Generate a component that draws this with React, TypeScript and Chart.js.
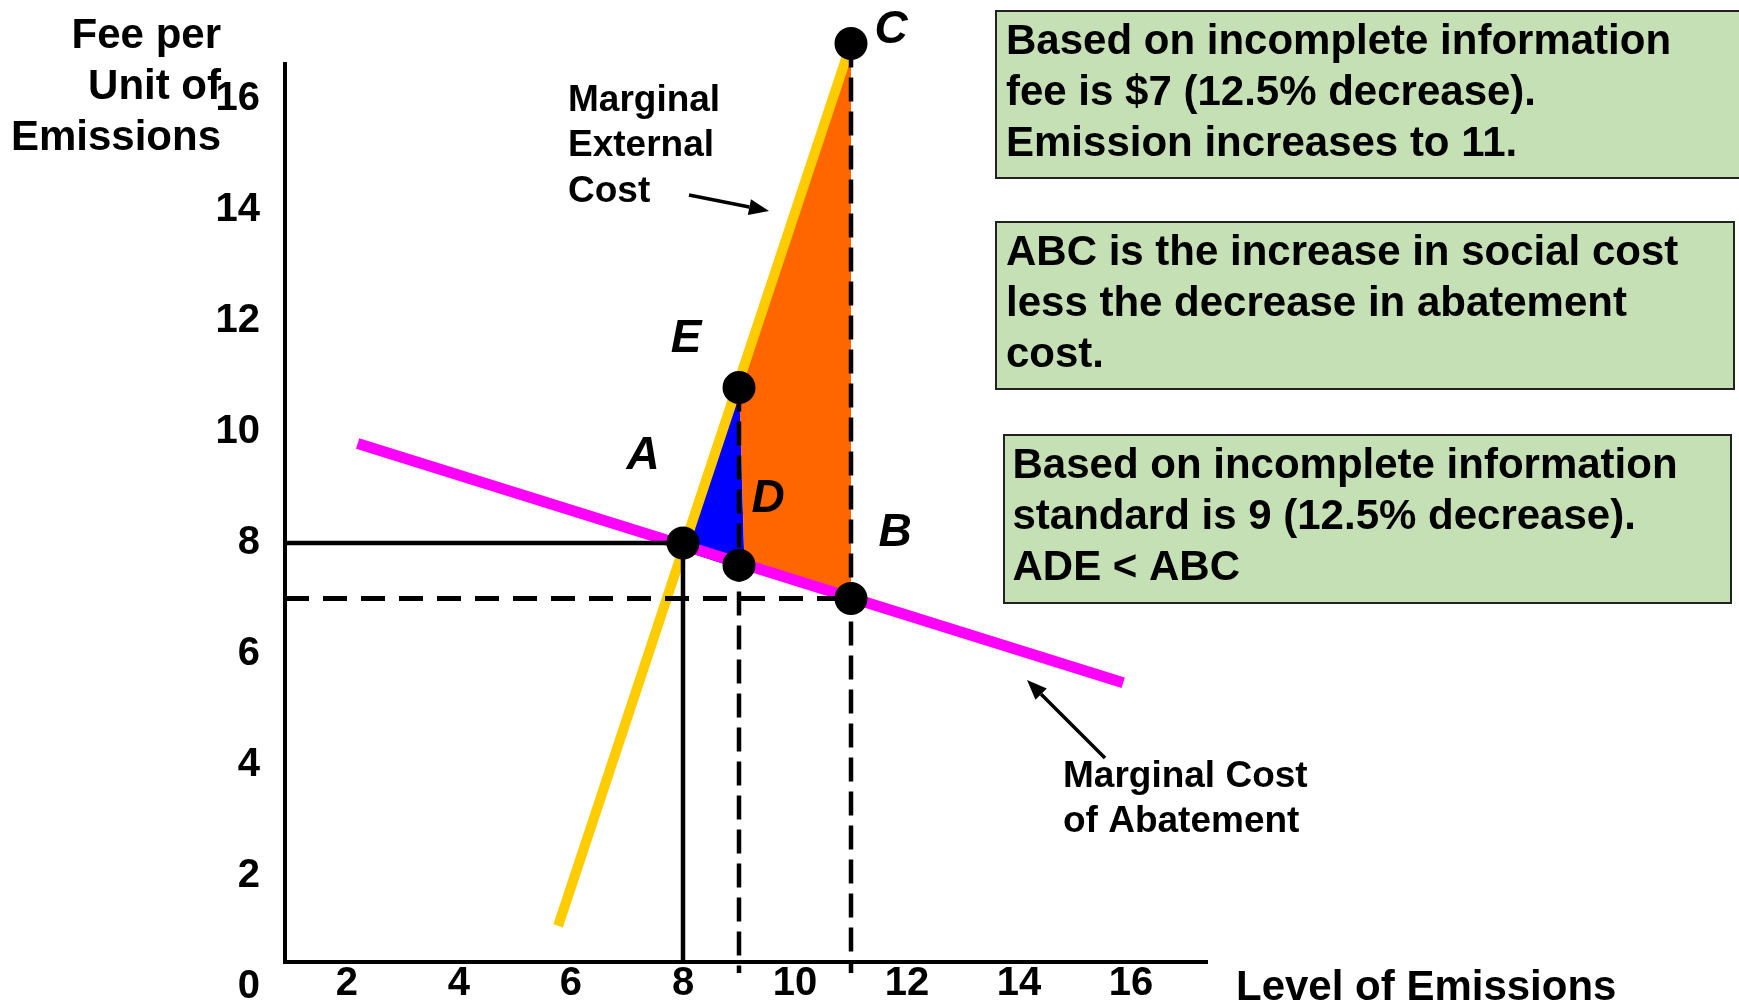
import React, { useEffect, useRef } from "react";
import { Chart, registerables } from "chart.js";

Chart.register(...registerables);

// ---------------- data ----------------
const X_TICKS = [2, 4, 6, 8, 10, 12, 14, 16];
const Y_TICKS = [0, 2, 4, 6, 8, 10, 12, 14, 16];

// named points A, D, E, B, C
const POINT_NAMES = ["A", "D", "E", "B", "C"];
const POINT_X = [8, 9, 9, 11, 11];
const POINT_Y = [8, 7.6, 10.8, 7, 17];

// Marginal External Cost (yellow)
const MEC_X = [5.77, 11];
const MEC_Y = [1.1, 17];
// Marginal Cost of Abatement (magenta)
const MCA_X = [2.19, 15.86];
const MCA_Y = [9.79, 5.48];

// shaded areas
const ORANGE_X = [9, 11, 11, 9.1, 9];
const ORANGE_Y = [10.9, 17, 7.0, 7.6, 10.9];
const BLUE_X = [8.03, 9, 9.1, 8.03];
const BLUE_Y = [7.85, 10.9, 7.5, 7.85];

// reference levels
const EFFICIENT_LEVEL = 8; // emissions and fee at A
const FEE_INCOMPLETE = 7;
const STANDARD_INCOMPLETE = 9;
const EMISSION_AT_FEE = 11;
const E_FEE = 10.8;
const C_FEE = 17;
const DASH_BOTTOM = 0.25;

// axis bounds
const X_MIN = 0.893;
const X_MAX = 17.357;
const Y_MIN = 0.45;
const Y_MAX = 16.63;

// texts
const Y_TITLE = ["Fee per", "Unit of", "Emissions"];
const X_TITLE = "Level of Emissions";
const MEC_LABEL = ["Marginal", "External", "Cost"];
const MCA_LABEL = ["Marginal Cost", "of Abatement"];
const BOX1 = ["Based on incomplete information", "fee is $7 (12.5% decrease).", "Emission increases to 11."];
const BOX2 = ["ABC is the increase in social cost", "less the decrease in abatement", "cost."];
const BOX3 = ["Based on incomplete information", "standard is 9 (12.5% decrease).", "ADE < ABC"];

// ---------------- layout / style ----------------
const FONT = "'Liberation Sans', Arial, Helvetica, sans-serif";
const W = 1739;
const H = 1001;
const AREA_TOP = 64;
const AREA_BOTTOM = 962;
const AREA_LEFT = 285;
const AREA_RIGHT = 1207;
const Y_AXIS_W = 100;
const BOX_FILL = "#C5E0B4";

const BOXES = [
  { x: 996, y: 11, w: 760, h: 167, tx: 1006, ty: 54, lines: BOX1 },
  { x: 996, y: 222, w: 738, h: 167, tx: 1006, ty: 264.5, lines: BOX2 },
  { x: 1004, y: 435, w: 727, h: 168, tx: 1012.5, ty: 477.5, lines: BOX3 },
];

// letter offsets relative to their point (pixels)
const LETTER_OFFSETS: Record<string, [number, number]> = {
  A: [-40, -87],
  D: [29, -66],
  E: [-53, -48],
  B: [44, -65],
  C: [40, -13],
};

const ARROWS = [
  { x1: 689, y1: 195, x2: 769, y2: 211 },
  { x1: 1105, y1: 758, x2: 1027, y2: 680 },
];

const xy = (xs: number[], ys: number[]) => xs.map((x, i) => ({ x, y: ys[i] }));

const annotationPlugin = {
  id: "annotations",
  afterDraw(chart: any) {
    const ctx: CanvasRenderingContext2D = chart.ctx;
    const xs = chart.scales.x;
    const ys = chart.scales.y;
    ctx.save();

    // green boxes
    for (const b of BOXES) {
      ctx.fillStyle = BOX_FILL;
      ctx.fillRect(b.x, b.y, b.w, b.h);
      ctx.strokeStyle = "#222";
      ctx.lineWidth = 2;
      ctx.strokeRect(b.x, b.y, b.w, b.h);
      ctx.fillStyle = "#000";
      ctx.font = `bold 42px ${FONT}`;
      ctx.textAlign = "left";
      ctx.textBaseline = "alphabetic";
      b.lines.forEach((t, i) => ctx.fillText(t, b.tx, b.ty + i * 51));
    }

    // axis titles
    ctx.fillStyle = "#000";
    ctx.font = `bold 42px ${FONT}`;
    ctx.textAlign = "right";
    ctx.textBaseline = "alphabetic";
    Y_TITLE.forEach((t, i) => ctx.fillText(t, 221, 48 + i * 51));
    ctx.textAlign = "left";
    ctx.fillText(X_TITLE, 1236, 1000);

    // curve labels
    ctx.font = `bold 37px ${FONT}`;
    MEC_LABEL.forEach((t, i) => ctx.fillText(t, 568, 110.5 + i * 45.5));
    MCA_LABEL.forEach((t, i) => ctx.fillText(t, 1063, 787 + i * 45));

    // arrows
    ctx.strokeStyle = "#000";
    ctx.fillStyle = "#000";
    ctx.lineWidth = 3.5;
    for (const a of ARROWS) {
      const ang = Math.atan2(a.y2 - a.y1, a.x2 - a.x1);
      const hl = 20;
      const hw = 8;
      const bx = a.x2 - hl * Math.cos(ang);
      const by = a.y2 - hl * Math.sin(ang);
      ctx.beginPath();
      ctx.moveTo(a.x1, a.y1);
      ctx.lineTo(bx, by);
      ctx.stroke();
      ctx.beginPath();
      ctx.moveTo(a.x2, a.y2);
      ctx.lineTo(bx + hw * Math.sin(ang), by - hw * Math.cos(ang));
      ctx.lineTo(bx - hw * Math.sin(ang), by + hw * Math.cos(ang));
      ctx.closePath();
      ctx.fill();
    }

    // point letters
    ctx.font = `italic bold 46px ${FONT}`;
    ctx.textAlign = "center";
    ctx.textBaseline = "middle";
    POINT_NAMES.forEach((n, i) => {
      const off = LETTER_OFFSETS[n];
      const px = xs.getPixelForValue(POINT_X[i]) + off[0];
      const py = ys.getPixelForValue(POINT_Y[i]) + off[1];
      ctx.fillText(n, px, py);
    });

    ctx.restore();
  },
};

export default function App() {
  const ref = useRef<HTMLCanvasElement>(null);

  useEffect(() => {
    const canvas = ref.current;
    if (!canvas) return;

    const lineDs = (data: any[], color: string, width: number, order: number, extra: any = {}) => ({
      data,
      showLine: true,
      borderColor: color,
      backgroundColor: color,
      borderWidth: width,
      pointRadius: 0,
      pointHoverRadius: 0,
      tension: 0,
      fill: false,
      order,
      ...extra,
    });

    const chart = new Chart(canvas, {
      type: "scatter",
      data: {
        datasets: [
          {
            data: xy(POINT_X, POINT_Y),
            showLine: false,
            // filled radius + thick same-colour border = 16.5px visual radius
            pointRadius: 12,
            pointHoverRadius: 12,
            pointBackgroundColor: "#000",
            pointBorderColor: "#000",
            pointBorderWidth: 9,
            order: 0,
            clip: false,
          } as any,
          lineDs(
            [
              { x: X_MIN, y: EFFICIENT_LEVEL },
              { x: EFFICIENT_LEVEL, y: EFFICIENT_LEVEL },
            ],
            "#000",
            4.5,
            1
          ),
          lineDs(
            [
              { x: EFFICIENT_LEVEL, y: EFFICIENT_LEVEL },
              { x: EFFICIENT_LEVEL, y: Y_MIN },
            ],
            "#000",
            4.5,
            1
          ),
          lineDs(
            [
              { x: X_MIN, y: FEE_INCOMPLETE },
              { x: EMISSION_AT_FEE, y: FEE_INCOMPLETE },
            ],
            "#000",
            5,
            1,
            { borderDash: [24, 14] }
          ),
          lineDs(
            [
              { x: STANDARD_INCOMPLETE, y: E_FEE },
              { x: STANDARD_INCOMPLETE, y: DASH_BOTTOM },
            ],
            "#000",
            4.5,
            1,
            { borderDash: [24, 10], clip: false }
          ),
          lineDs(
            [
              { x: EMISSION_AT_FEE, y: C_FEE },
              { x: EMISSION_AT_FEE, y: DASH_BOTTOM },
            ],
            "#000",
            4.5,
            1,
            { borderDash: [24, 10], clip: false }
          ),
          lineDs(xy(MEC_X, MEC_Y), "#FFCC00", 10, 2, { clip: false }),
          lineDs(xy(MCA_X, MCA_Y), "#FF00FF", 11, 3),
          lineDs(xy(BLUE_X, BLUE_Y), "rgba(0,0,0,0)", 0, 4, {
            backgroundColor: "#0000FF",
            fill: "shape",
          }),
          lineDs(xy(ORANGE_X, ORANGE_Y), "rgba(0,0,0,0)", 0, 5, {
            backgroundColor: "#FF6600",
            fill: "shape",
          }),
        ],
      },
      options: {
        responsive: false,
        animation: false,
        devicePixelRatio: 1,
        events: [],
        layout: {
          padding: {
            left: AREA_LEFT - Y_AXIS_W,
            top: AREA_TOP,
            right: W - AREA_RIGHT,
            bottom: 0,
          },
        },
        plugins: {
          legend: { display: false },
          tooltip: { enabled: false },
        },
        scales: {
          x: {
            type: "linear",
            position: "bottom",
            min: X_MIN,
            max: X_MAX,
            afterBuildTicks: (s: any) => {
              s.ticks = X_TICKS.map((v) => ({ value: v }));
            },
            afterFit: (s: any) => {
              s.height = H - AREA_BOTTOM;
            },
            grid: { display: false, drawTicks: false },
            border: { display: true, color: "#000", width: 4 },
            ticks: {
              autoSkip: false,
              maxRotation: 0,
              minRotation: 0,
              padding: 0,
              color: "#000",
              font: { family: FONT, size: 40, weight: "bold", lineHeight: 1.1 },
              callback: (v: any) => String(v),
            },
          },
          y: {
            type: "linear",
            position: "left",
            min: Y_MIN,
            max: Y_MAX,
            afterBuildTicks: (s: any) => {
              s.ticks = Y_TICKS.map((v) => ({ value: v }));
            },
            afterFit: (s: any) => {
              s.width = Y_AXIS_W;
            },
            grid: { display: false, drawTicks: true, tickLength: 25 },
            border: { display: true, color: "#000", width: 4 },
            ticks: {
              autoSkip: false,
              padding: 0,
              color: "#000",
              font: { family: FONT, size: 40, weight: "bold", lineHeight: 1.0 },
              callback: (v: any) => String(v),
            },
          },
        },
      } as any,
      plugins: [annotationPlugin],
    });

    return () => chart.destroy();
  }, []);

  return (
    <div style={{ position: "absolute", left: 0, top: 0, width: W, height: H, background: "#fff" }}>
      <canvas ref={ref} width={W} height={H} style={{ display: "block", width: W, height: H }} />
    </div>
  );
}
